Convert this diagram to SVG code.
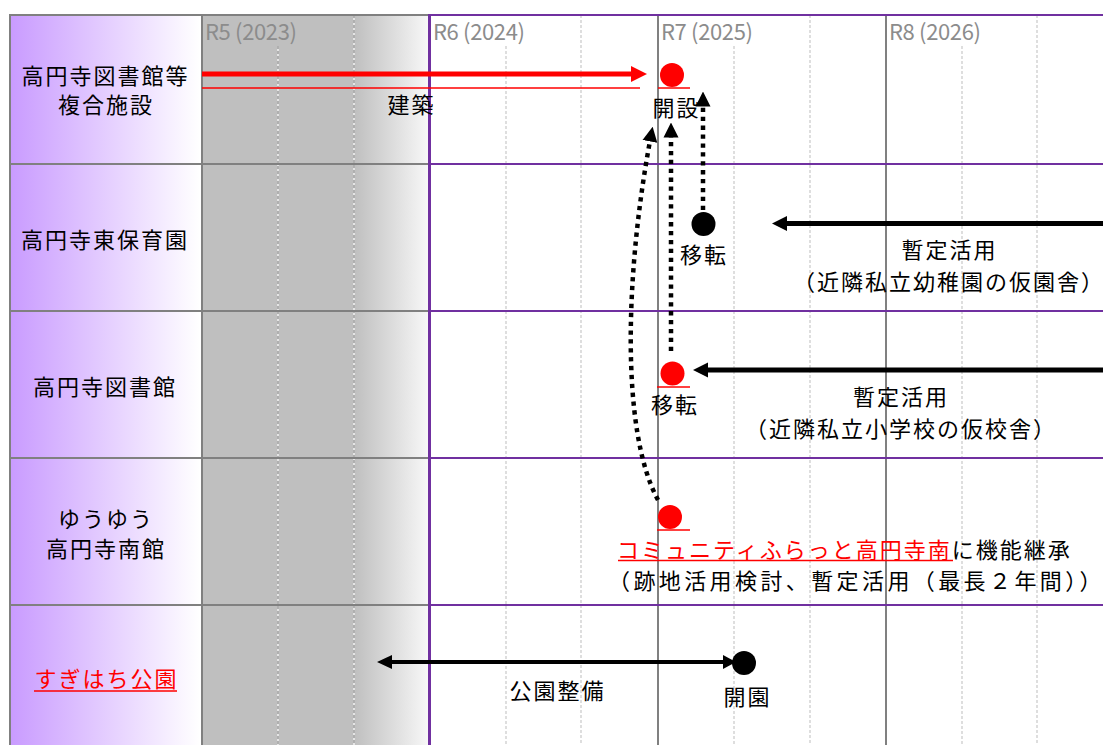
<svg xmlns="http://www.w3.org/2000/svg" width="1103" height="745" viewBox="0 0 1103 745">
<defs>
<linearGradient id="lab" x1="10" y1="0" x2="200" y2="0" gradientUnits="userSpaceOnUse"><stop offset="0" stop-color="#c99bff"/><stop offset="1" stop-color="#ffffff"/></linearGradient>
<linearGradient id="fade" x1="354" y1="0" x2="429" y2="0" gradientUnits="userSpaceOnUse"><stop offset="0" stop-color="#bfbfbf"/><stop offset="1" stop-color="#f8f8f8"/></linearGradient>
<marker id="ah" markerUnits="userSpaceOnUse" viewBox="0 0 15 16" markerWidth="15" markerHeight="16" refX="0.5" refY="8" orient="auto"><path d="M0,0.5 L15,8 L0,15.5 z" fill="#000"/></marker>
</defs>
<style>
.t{font-family:"Noto Sans CJK JP","Noto Sans CJK SC",sans-serif;font-size:22px;letter-spacing:2px;fill:#000}
.m{text-anchor:middle}
.ns{letter-spacing:0}
.yr{font-family:"Noto Sans CJK JP","Noto Sans",sans-serif;font-size:22px;fill:#8c8c8c}
.g{stroke:#808080;stroke-width:2}
.p{stroke:#7030a0;stroke-width:2}
.qw{stroke:#ffffff;stroke-width:1.2}
.qg{stroke:#8c8c8c;stroke-width:1.2;stroke-dasharray:3 2}
.q{stroke:#bdbdbd;stroke-width:1;stroke-dasharray:3 2}
.dot{fill:none;stroke:#000;stroke-width:4.5;stroke-dasharray:4.3 4.6;marker-end:url(#ah)}
.red{fill:#ff0000}
.blk{fill:#000}
.ul{stroke:#ff0000;stroke-width:1.5}
.bar{stroke:#000;stroke-width:5}
</style>
<rect width="1103" height="745" fill="#ffffff"/>
<g id="grid">
<rect x="10" y="15" width="192" height="730" fill="url(#lab)"/>
<rect x="202" y="15" width="152" height="730" fill="#bfbfbf"/>
<rect x="354" y="15" width="75" height="730" fill="url(#fade)"/>
<line class="qw" x1="278" y1="46" x2="278" y2="745"/>
<line class="qg" x1="278" y1="46" x2="278" y2="745"/>
<line class="qw" x1="354" y1="15" x2="354" y2="745"/>
<line class="qg" x1="354" y1="15" x2="354" y2="745"/>
<line class="q" x1="506" y1="46" x2="506" y2="745"/>
<line class="q" x1="581" y1="15" x2="581" y2="745"/>
<line class="q" x1="734" y1="46" x2="734" y2="745"/>
<line class="q" x1="810" y1="15" x2="810" y2="745"/>
<line class="q" x1="962" y1="46" x2="962" y2="745"/>
<line class="q" x1="1037" y1="15" x2="1037" y2="745"/>
<line class="g" x1="658" y1="15" x2="658" y2="745"/>
<line class="g" x1="886" y1="15" x2="886" y2="745"/>
<line class="g" x1="10" y1="15" x2="429" y2="15"/>
<line class="g" x1="10" y1="164" x2="429" y2="164"/>
<line class="g" x1="10" y1="311" x2="429" y2="311"/>
<line class="g" x1="10" y1="458" x2="429" y2="458"/>
<line class="g" x1="10" y1="605" x2="429" y2="605"/>
<line class="p" x1="429" y1="15" x2="1103" y2="15"/>
<line class="p" x1="429" y1="164" x2="1103" y2="164"/>
<line class="p" x1="429" y1="311" x2="1103" y2="311"/>
<line class="p" x1="429" y1="458" x2="1103" y2="458"/>
<line class="p" x1="429" y1="605" x2="1103" y2="605"/>
<line class="g" x1="10" y1="14" x2="10" y2="745"/>
<line class="g" x1="202" y1="14" x2="202" y2="745"/>
<line stroke="#7030a0" stroke-width="3" x1="429.5" y1="14" x2="429.5" y2="745"/>
</g>
<g id="years">
<text class="yr" x="205" y="40" textLength="92">R5 (2023)</text>
<text class="yr" x="433" y="40" textLength="92">R6 (2024)</text>
<text class="yr" x="661" y="40" textLength="92">R7 (2025)</text>
<text class="yr" x="889" y="40" textLength="92">R8 (2026)</text>
</g>
<g id="labels">
<text class="t m"><tspan x="105.5" y="83.5">高円寺図書館等</tspan><tspan x="106" y="113">複合施設</tspan></text>
<text class="t m" x="105" y="248">高円寺東保育園</text>
<text class="t m" x="105" y="395">高円寺図書館</text>
<text class="t m"><tspan x="106" y="527">ゆうゆう</tspan><tspan x="106" y="557">高円寺南館</tspan></text>
<text class="t m" x="106.5" y="687" style="fill:#ff0000">すぎはち公園</text>
<line class="ul" x1="34" y1="691" x2="177" y2="691" stroke-width="2"/>
</g>
<g id="construction">
<line stroke="#ff0000" stroke-width="5" x1="202" y1="74" x2="633" y2="74"/>
<polygon class="red" points="647,74 631,66 631,82"/>
<line class="ul" x1="202" y1="88" x2="640" y2="88"/>
<text class="t m" x="411.5" y="113">建築</text>
</g>
<g id="open-complex">
<circle class="red" cx="672" cy="75" r="12"/>
<line class="ul" x1="658" y1="88" x2="690" y2="88"/>
<text class="t m" x="676.5" y="116">開設</text>
</g>
<g id="nursery">
<circle class="blk" cx="703.5" cy="224" r="12"/>
<text class="t m" x="704" y="263">移転</text>
<line class="bar" x1="785" y1="223.5" x2="1103" y2="223.5"/>
<polygon class="blk" points="772,223.5 787,216 787,231"/>
<text class="t m"><tspan x="949.5" y="258">暫定活用</tspan><tspan x="948" y="290">（近隣私立幼稚園の仮園舎<tspan class="ns">）</tspan></tspan></text>
</g>
<g id="library">
<circle class="red" cx="672.5" cy="373.5" r="12"/>
<line class="ul" x1="657" y1="387" x2="690" y2="387"/>
<text class="t m" x="675" y="413">移転</text>
<line class="bar" x1="706" y1="370" x2="1103" y2="370"/>
<polygon class="blk" points="693,370 708,362.5 708,377.5"/>
<text class="t m"><tspan x="901" y="405">暫定活用</tspan><tspan x="900" y="437">（近隣私立小学校の仮校舎<tspan class="ns">）</tspan></tspan></text>
</g>
<g id="yuyu">
<circle class="red" cx="670" cy="517" r="12"/>
<line class="ul" x1="657" y1="530" x2="690" y2="530"/>
<text class="t"><tspan x="617" y="558" fill="#ff0000">コミュニティふらっと高円寺南</tspan><tspan>に機能継承</tspan><tspan x="608" y="589" style="letter-spacing:3.4px">（跡地活用検討、暫定活用（最長２年間）<tspan class="ns">）</tspan></tspan></text>
<line class="ul" x1="618" y1="560.5" x2="953" y2="560.5"/>
</g>
<g id="park">
<line stroke="#000" stroke-width="4" x1="390" y1="662" x2="725" y2="662"/>
<polygon class="blk" points="377,662 392,655 392,669"/>
<polygon class="blk" points="736,662 723,655 723,669"/>
<circle class="blk" cx="744" cy="663" r="12"/>
<text class="t m" x="557.5" y="699">公園整備</text>
<text class="t m" x="747.5" y="705">開園</text>
</g>
<g id="connectors">
<path class="dot" d="M703,210 V106"/>
<path class="dot" d="M671,351 V137"/>
<path class="dot" d="M658,500 C620,430 626,270 650,141"/>
</g>
</svg>
